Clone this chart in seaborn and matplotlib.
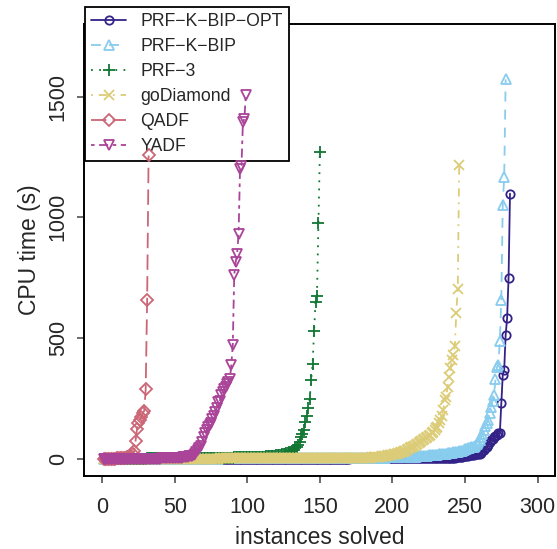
import matplotlib
matplotlib.use("Agg")
import matplotlib.pyplot as plt
import seaborn as sns

# cactus plot: sorted CPU times per solver, x = number of instances solved
names = ["PRF−K−BIP−OPT", "PRF−K−BIP", "PRF−3", "goDiamond", "QADF", "YADF"]

t_opt = [
    0, 0, 0, 0, 0, 0, 0, 0, 0, 0, 0, 0, 0, 0, 0, 0, 0, 0, 0, 0,
    0, 0, 0, 0, 0, 0, 0, 0, 0, 0, 0, 0, 0, 0, 0, 0, 0, 0, 0, 0,
    0, 0, 0, 0, 0, 0, 0, 0, 0, 0, 0, 0, 0, 0, 0, 0, 0, 0, 0, 0,
    1, 1, 1, 1, 1, 1, 1, 1, 1, 1, 1, 1, 1, 1, 1, 1, 1, 1, 1, 1,
    1, 1, 1, 1, 1, 1, 1, 1, 1, 1, 1, 1, 1, 1, 1, 1, 1, 1, 1, 1,
    1, 1, 1, 1, 1, 1, 1, 1, 1, 1, 1, 1, 1, 1, 1, 1, 1, 1, 1, 1,
    2, 2, 2, 2, 2, 2, 2, 2, 2, 2, 2, 2, 2, 2, 2, 2, 2, 2, 2, 2,
    2, 2, 2, 2, 2, 2, 2, 2, 2, 2, 2, 2, 2, 2, 2, 2, 2, 2, 2, 2,
    2, 2, 2, 2, 2, 2, 2, 2, 2, 2, 3, 3, 3, 3, 3, 3, 3, 3, 3, 3,
    3, 3, 3, 3, 3, 3, 3, 3, 3, 3, 3, 3, 3, 3, 3, 3, 3, 3, 3, 3,
    3, 3, 3, 3, 3, 3, 3, 3, 3, 3, 4, 4, 4, 4, 4, 4, 4, 4, 4, 4,
    4, 4, 4, 4, 4, 4, 4, 4, 4, 4, 4, 4, 4, 4, 4, 4, 4, 4, 4, 4,
    5, 6, 6, 7, 7, 8, 9, 10, 11, 12,
    13, 14, 15, 16, 17, 18, 19, 20, 21, 23,
    27, 32, 38, 45, 51, 60, 70, 79, 85, 90, 95,
    100, 106, 109, 233, 348, 369, 514, 583, 749, 1098,
]

t_kbip = [
    1, 1, 1, 1, 1, 1, 1, 1, 1, 1, 1, 1, 1, 1, 1, 1, 1, 1, 1, 1,
    1, 1, 1, 1, 1, 1, 1, 1, 1, 1, 1, 1, 1, 1, 1, 1, 1, 1, 1, 1,
    2, 2, 2, 2, 2, 2, 2, 2, 2, 2, 2, 2, 2, 2, 2, 2, 2, 2, 2, 2,
    2, 2, 2, 2, 2, 2, 2, 2, 2, 2, 2, 2, 2, 2, 2, 2, 2, 2, 2, 2,
    3, 3, 3, 3, 3, 3, 3, 3, 3, 3, 3, 3, 3, 3, 3, 3, 3, 3, 3, 3,
    3, 3, 3, 3, 3, 3, 3, 3, 3, 3, 3, 3, 3, 3, 3, 3, 3, 3, 3, 3,
    4, 4, 4, 4, 4, 4, 4, 4, 4, 4, 4, 4, 4, 4, 4, 4, 4, 4, 4, 4,
    4, 4, 4, 4, 4, 4, 4, 4, 4, 4, 5, 5, 5, 5, 5, 5, 5, 5, 5, 5,
    5, 5, 5, 5, 5, 5, 5, 5, 5, 5, 5, 5, 5, 5, 5, 6, 6, 6, 6, 6,
    6, 6, 6, 6, 6, 6, 6, 6, 6, 6, 6, 6, 6, 6, 6, 7, 7, 7, 7, 7,
    7, 7, 7, 7, 7, 7, 7, 7, 7, 7,
    8, 8, 9, 9, 10, 10, 11, 11, 12, 12,
    13, 13, 14, 14, 15, 15, 16, 16, 17, 17, 18, 19, 19, 20, 21, 22, 23,
    24, 25, 26, 27, 28, 29, 30, 31, 32, 34, 35, 37,
    40, 42, 44, 46, 48, 50, 51,
    55, 62, 70, 79,
    90, 105, 120, 135, 150,
    162, 190, 217, 240, 265, 330, 380, 390, 490, 659, 1053, 1166, 1571,
]

t_prf3 = [
    2, 2, 2, 2, 2, 2, 2, 2, 2, 2, 2, 2, 2, 2, 2, 2, 2, 2, 2, 2,
    2, 2, 2, 2, 2, 2, 2, 2, 2, 2, 4, 4, 4, 4, 4, 4, 4, 4, 4, 4,
    4, 4, 4, 4, 4, 4, 4, 4, 4, 4, 4, 4, 4, 4, 4, 4, 4, 4, 4, 4,
    6, 6, 6, 6, 6, 6, 6, 6, 6, 6, 6, 6, 6, 6, 6, 6, 6, 6, 6, 6,
    6, 6, 6, 6, 6, 6, 6, 6, 6, 6, 8, 8, 8, 8, 8, 8, 8, 8, 8, 8,
    8, 8, 8, 8, 8, 8, 8, 8, 8, 8,
    10, 10, 11, 11, 12, 12, 13, 13, 14, 15,
    16, 17, 18, 19, 20, 22, 24, 26, 28, 30,
    33, 37, 45, 52, 58, 72, 92, 105, 120, 155,
    180, 210, 247, 327, 394, 528, 648, 673, 977, 1270,
]

t_godiamond = [
    1, 1, 1, 1, 1, 1, 1, 1, 1, 1, 1, 1, 1, 1, 1, 1, 1, 1, 1, 1,
    1, 1, 1, 1, 1, 1, 1, 1, 1, 1, 1, 1, 1, 1, 1, 1, 1, 1, 1, 1,
    2, 2, 2, 2, 2, 2, 2, 2, 2, 2, 2, 2, 2, 2, 2, 2, 2, 2, 2, 2,
    2, 2, 2, 2, 2, 2, 2, 2, 2, 2, 2, 2, 2, 2, 2, 2, 2, 2, 2, 2,
    3, 3, 3, 3, 3, 3, 3, 3, 3, 3, 3, 3, 3, 3, 3, 3, 3, 3, 3, 3,
    3, 3, 3, 3, 3, 3, 3, 3, 3, 3, 3, 3, 3, 3, 3, 3, 3, 3, 3, 3,
    4, 4, 4, 4, 4, 4, 4, 4, 4, 4, 4, 4, 4, 4, 4, 4, 4, 4, 4, 4,
    4, 4, 4, 4, 4, 4, 4, 4, 4, 4, 5, 5, 5, 5, 5, 5, 5, 5, 5, 5,
    5, 5, 5, 5, 5, 5, 5, 5, 5, 5, 6, 6, 6, 6, 6, 6, 6, 6, 6, 6,
    6, 6, 6, 6, 6,
    7, 7, 8, 8, 9,
    10, 10, 11, 12, 13, 14, 15, 16, 17, 18, 20, 21, 23,
    25, 27, 29, 31, 33, 35, 37,
    40, 44, 48, 51,
    55, 59, 63, 68, 72,
    75, 80, 84, 88, 92,
    95, 100, 106, 113,
    120, 127, 134,
    150, 162, 180, 203, 245, 258, 300, 341, 376, 410, 431, 468, 606, 703, 1218,
]

t_qadf = [
    1, 1, 1, 1, 1, 2, 2, 2, 2, 3, 3, 3, 4, 4, 5, 6, 7, 8, 10, 13, 20,
    33, 75, 123, 148, 162, 175, 189, 200, 288, 659, 1256,
]

t_yadf = [
    1, 1, 1, 1, 1, 1, 1, 1, 1, 1, 1, 1, 1, 1, 1, 1, 1, 1, 1, 1,
    2, 2, 2, 2, 2, 2, 2, 2, 2, 2, 2, 2, 2, 2, 2, 2, 2, 2, 2, 2,
    3, 3, 3, 3, 3, 3, 3, 3, 3, 3,
    4, 4, 5, 5, 6, 7,
    8, 9, 10, 11, 12, 13,
    15, 20, 29, 38, 45, 55, 70, 90, 108, 120, 133, 140, 150, 165, 180, 195, 211, 235,
    240, 265, 279, 290, 300, 310, 320, 330, 390, 472, 762, 814, 850, 932, 1200, 1214, 1395, 1408, 1508,
]

series = [t_opt, t_kbip, t_prf3, t_godiamond, t_qadf, t_yadf]
colors = ["#332288", "#88CCEE", "#117733", "#DDCC77", "#CC6677", "#AA4499"]
markers = ["o", "^", "+", "x", "D", "v"]
msizes = [6, 7.5, 9, 7.5, 6, 7.5]
styles = ["-", (0, (5.5, 4.5)), (0, (1, 3.5)), (0, (1, 3.3, 4.5, 3.3)),
          (0, (8.5, 3.5)), (0, (2, 2.5, 5, 2.5))]

sns.set_style("ticks")
plt.rcParams["font.family"] = ["Liberation Sans", "DejaVu Sans"]

fig = plt.figure(figsize=(5.57, 5.49), dpi=100)
ax = fig.add_axes([84 / 557, 1 - 476 / 549, 471 / 557, 452 / 549])

for name, t, c, m, ms, ls in zip(names, series, colors, markers, msizes, styles):
    xs = list(range(1, len(t) + 1))
    sns.lineplot(x=xs, y=t, ax=ax, color=c, marker=m, markersize=ms,
                 linestyle=ls, lw=1.3, mfc="none", mec=c, mew=1.3,
                 label=name, errorbar=None, zorder=4, clip_on=False)

ax.set_xlim(-12.5, 312)
ax.set_ylim(-70, 1800)
ax.set_xticks([0, 50, 100, 150, 200, 250, 300])
ax.set_yticks([0, 500, 1000, 1500])
ax.tick_params(direction="out", length=5, width=1.1, labelsize=15.5, pad=6,
               color="#444444")
ax.tick_params(axis="x", pad=10)
for lab in ax.get_yticklabels():
    lab.set_rotation(90)
    lab.set_va("center")
for sp in ax.spines.values():
    sp.set_visible(True)
    sp.set_linewidth(1.4)
    sp.set_color("black")
ax.set_xlabel("instances solved", fontsize=16.5, labelpad=6)
ax.set_ylabel("CPU time (s)", fontsize=16.5, labelpad=5)

# R-style legend: white box over the frame, sticking out above it,
# but the data marks are drawn on top of it
leg = ax.legend(loc="upper left", bbox_to_anchor=(85 / 557, 1 - 7 / 549),
                bbox_transform=fig.transFigure, fontsize=12.7, frameon=True,
                fancybox=False, framealpha=1, facecolor="white",
                edgecolor="black", borderaxespad=0, borderpad=0.35,
                handlelength=2.0, handletextpad=0.8, labelspacing=0.45,
                numpoints=1)
leg.get_frame().set_linewidth(1.3)
leg.set_zorder(3)

fig.savefig("out.png", dpi=100)
